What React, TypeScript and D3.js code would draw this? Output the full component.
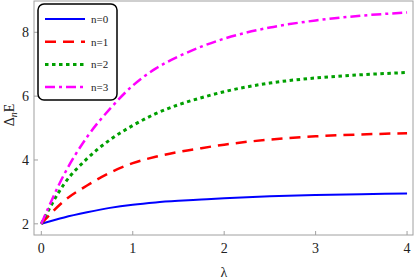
import React from "react";
import * as d3 from "d3";

const lambdas = [0, 0.25, 0.5, 0.75, 1, 1.25, 1.5, 1.75, 2, 2.5, 3, 3.5, 4];
const n0 = [2, 2.2, 2.36, 2.5, 2.6, 2.67, 2.72, 2.76, 2.8, 2.86, 2.9, 2.93, 2.95];
const n1 = [2, 2.72, 3.2, 3.6, 3.9, 4.1, 4.25, 4.37, 4.48, 4.64, 4.74, 4.8, 4.84];
const n2 = [2, 3.25, 4.04, 4.63, 5.08, 5.45, 5.73, 5.95, 6.14, 6.41, 6.57, 6.67, 6.74];
const n3 = [2, 3.55, 4.72, 5.6, 6.33, 6.86, 7.24, 7.55, 7.8, 8.15, 8.37, 8.52, 8.62];
const seriesNames = ["n=0", "n=1", "n=2", "n=3"];
const xTicks = [0, 1, 2, 3, 4];
const yTicks = [2, 4, 6, 8];

const styles = [
  { color: "#0000ff", dash: "none", width: 2 },
  { color: "#ff0000", dash: "11,7", width: 2.5 },
  { color: "#00a000", dash: "3.5,3.5", width: 3 },
  { color: "#ff00ff", dash: "10,4,3,4", width: 2.5 },
];

export default function App() {
  const W = 415, H = 280;
  const left = 34, right = 413, top = 1, bottom = 235;
  const x = d3.scaleLinear().domain([-0.08, 4.065]).range([left, right]);
  const y = d3.scaleLinear().domain([1.65, 8.98]).range([bottom, top]);
  const all = [n0, n1, n2, n3];
  const line = d3
    .line<number>()
    .x((_, i) => x(lambdas[i]))
    .y((d) => y(d))
    .curve(d3.curveMonotoneX);
  const font = "'Liberation Serif', 'DejaVu Serif', serif";
  return (
    <svg width={W} height={H} style={{ position: "absolute", left: 0, top: 0 }}>
      <rect x={0} y={0} width={W} height={H} fill="#fff" />
      <defs>
        <clipPath id="clip">
          <rect x={left} y={top} width={right - left} height={bottom - top} />
        </clipPath>
      </defs>
      <rect x={left} y={top} width={right - left} height={bottom - top} fill="none" stroke="#a0a0a0" strokeWidth={1} />
      {xTicks.map((t) => (
        <g key={"x" + t}>
          <line x1={x(t)} x2={x(t)} y1={bottom} y2={bottom - 4} stroke="#a0a0a0" />
          <text x={x(t)} y={253} textAnchor="middle" fontFamily={font} fontSize={14} fill="#222">
            {t}
          </text>
        </g>
      ))}
      {yTicks.map((t) => (
        <g key={"y" + t}>
          <line x1={left} x2={left + 4} y1={y(t)} y2={y(t)} stroke="#a0a0a0" />
          <text x={29} y={y(t) + 5} textAnchor="end" fontFamily={font} fontSize={14} fill="#222">
            {t}
          </text>
        </g>
      ))}
      <text x={224} y={277} textAnchor="middle" fontFamily={font} fontSize={14} fill="#222">
        λ
      </text>
      <text
        transform={`translate(14,115) rotate(-90)`}
        textAnchor="middle"
        fontFamily={font}
        fontSize={14}
        fill="#222"
      >
        Δ<tspan fontStyle="italic" fontSize={10} dy={3}>n</tspan>
        <tspan dy={-3}>E</tspan>
      </text>
      <g clipPath="url(#clip)">
        {all.map((s, i) => (
          <path
            key={i}
            d={line(s) || ""}
            fill="none"
            stroke={styles[i].color}
            strokeWidth={styles[i].width}
            strokeDasharray={styles[i].dash}
          />
        ))}
      </g>
      <rect x={38} y={4} width={79} height={96} rx={6} ry={6} fill="#fff" stroke="#000" strokeWidth={1.5} />
      {seriesNames.map((name, i) => {
        const ly = 19 + i * 22.7;
        return (
          <g key={name}>
            <line
              x1={45}
              x2={85}
              y1={ly}
              y2={ly}
              stroke={styles[i].color}
              strokeWidth={styles[i].width}
              strokeDasharray={styles[i].dash}
            />
            <text x={91} y={ly + 4} fontFamily={font} fontSize={11} fill="#222">
              {name}
            </text>
          </g>
        );
      })}
    </svg>
  );
}
